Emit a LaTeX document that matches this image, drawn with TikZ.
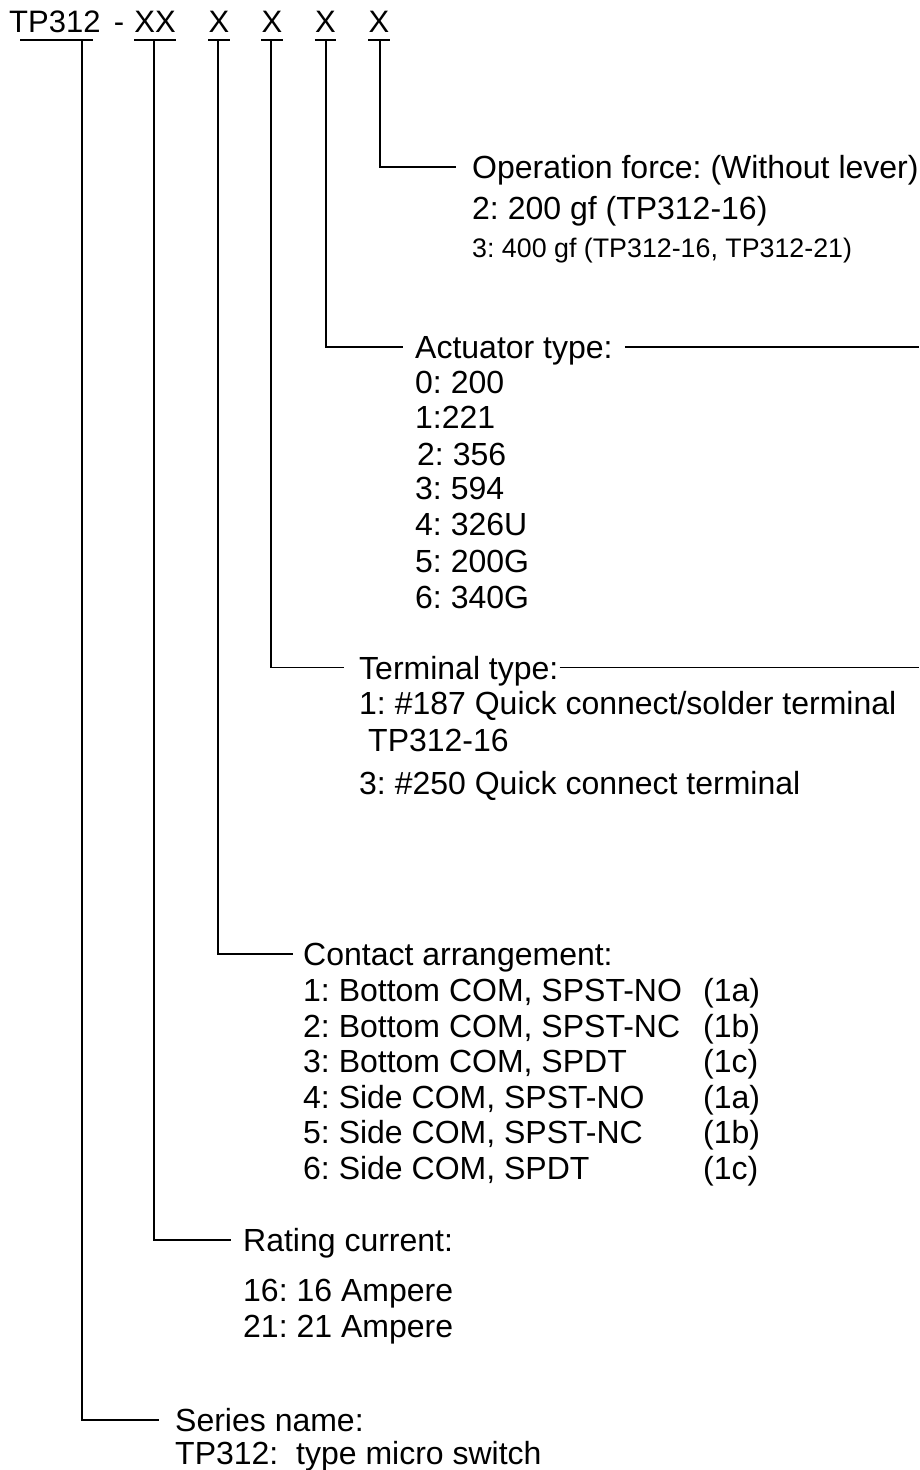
\documentclass[tikz,border=0pt]{standalone}
\usepackage{fontspec}
\setmainfont{Liberation Sans}
\usetikzlibrary{calc}
\frenchspacing
\begin{document}
\begin{tikzpicture}[x=1pt,y=-1pt,
  conn/.style={line width=1.6pt},
  uline/.style={line width=2.6pt},
  hd/.style={anchor=base, inner sep=0pt, font=\fontsize{31}{36}\selectfont},
  lbl/.style={anchor=base west, inner sep=0pt, font=\fontsize{32}{36}\selectfont},
  sml/.style={anchor=base west, inner sep=0pt, font=\fontsize{26.8}{30}\selectfont}]
\useasboundingbox[fill=white] (0,0) rectangle (919,1470);

% ---------- header ----------
\node[hd, anchor=base west] (tp) at (9,32) {TP312};
\node[hd] (dash) at (119,32) {-};
\node[hd] (xx) at (155,32) {XX};
\node[hd] (x1) at (219,32) {X};
\node[hd] (x2) at (272,32) {X};
\node[hd] (x3) at (325.5,32) {X};
\node[hd] (x4) at (379,32) {X};

\coordinate (tpL) at (20,40);
\coordinate (tpR) at (93,40);
\draw[uline] (tpL) -- (tpR);
\foreach \n in {xx,x1,x2,x3,x4}
  \draw[uline] ($(\n.base west)+(0,8)$) -- ($(\n.base east)+(0,8)$);

\coordinate (tpT) at (82,40);
\coordinate (xxT) at (154,40);
\coordinate (x1T) at (218,40);
\coordinate (x2T) at (271,40);
\coordinate (x3T) at (326,40);
\coordinate (x4T) at (380,40);

% ---------- operation force ----------
\node[lbl] (opf) at (472,178.5) {Operation force: (Without lever)};
\node[lbl] (opf2) at (472,219.5) {2: 200 gf (TP312-16)};
\node[sml] (opf3) at (472,257.5) {3: 400 gf (TP312-16, TP312-21)};

% ---------- actuator ----------
\node[lbl] (act) at (415,358.5) {Actuator type:};
\node[lbl] (act0) at (415,393) {0: 200};
\node[lbl] (act1) at (415,428.5) {1:221};
\node[lbl] (act2) at (417,465.5) {2: 356};
\node[lbl] (act3) at (415,499) {3: 594};
\node[lbl] (act4) at (415,535.5) {4: 326U};
\node[lbl] (act5) at (415,572) {5: 200G};
\node[lbl] (act6) at (415,608.5) {6: 340G};
\coordinate (actR) at (919,347);

% ---------- terminal ----------
\node[lbl] (ter) at (359,679) {Terminal type:};
\node[lbl] (ter1) at (359,714.5) {1: \#187 Quick connect/solder terminal};
\node[lbl] (ter1b) at (368,751.5) {TP312-16};
\node[lbl] (ter3) at (359,794.5) {3: \#250 Quick connect terminal};
\coordinate (terR) at (919,667.5);

% ---------- contact ----------
\node[lbl] (con) at (303,965.5) {Contact arrangement:};
\node[lbl] (con1) at (303,1001.5) {1: Bottom COM, SPST-NO};
\node[lbl] (con2) at (303,1037.5) {2: Bottom COM, SPST-NC};
\node[lbl] (con3) at (303,1072.5) {3: Bottom COM, SPDT};
\node[lbl] (con4) at (303,1108.5) {4: Side COM, SPST-NO};
\node[lbl] (con5) at (303,1143.5) {5: Side COM, SPST-NC};
\node[lbl] (con6) at (303,1179.5) {6: Side COM, SPDT};
\node[lbl] (c1) at (703,1001.5) {(1a)};
\node[lbl] (c2) at (703,1037.5) {(1b)};
\node[lbl] (c3) at (703,1072.5) {(1c)};
\node[lbl] (c4) at (703,1108.5) {(1a)};
\node[lbl] (c5) at (703,1143.5) {(1b)};
\node[lbl] (c6) at (703,1179.5) {(1c)};

% ---------- rating ----------
\node[lbl] (rat) at (243,1251.5) {Rating current:};
\node[lbl] (rat1) at (243,1301.5) {16: 16 Ampere};
\node[lbl] (rat2) at (243,1337.5) {21: 21 Ampere};

% ---------- series ----------
\node[lbl] (ser) at (175,1431.5) {Series name:};
\node[lbl] (ser1) at (175,1464.5) {TP312:\ \ type micro switch};

% ---------- connectors ----------
\draw[conn] (x4T) |- ($(opf.base west)+(-16,-11.5)$);
\draw[conn] (x3T) |- ($(act.base west)+(-12,-11.5)$);
\draw[conn] ($(act.base east)+(12,-11.5)$) -- (actR);
\draw[conn] (x2T) |- ($(ter.base west)+(-15,-11.5)$);
\draw[conn] ($(ter.base east)+(1,-11.5)$) -- (terR);
\draw[conn] (x1T) |- ($(con.base west)+(-10,-11.5)$);
\draw[conn] (xxT) |- ($(rat.base west)+(-12,-11.5)$);
\draw[conn] (tpT) |- ($(ser.base west)+(-16,-11.5)$);
\end{tikzpicture}
\end{document}
